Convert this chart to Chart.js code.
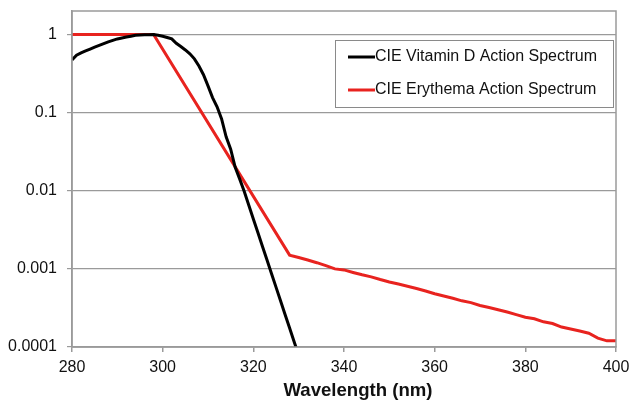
<!DOCTYPE html>
<html>
<head>
<meta charset="utf-8">
<script src="https://cdn.jsdelivr.net/npm/chart.js@4.4.1/dist/chart.umd.min.js"></script>
<style>
  html, body { margin: 0; padding: 0; background: #fff; }
  #wrap { width: 631px; height: 400px; }
</style>
</head>
<body>
<div id="wrap"><canvas id="spectrum"></canvas></div>
<script>
// wavelength (nm) and relative response
const vitDWavelength = [280, 281, 282, 283, 284, 285, 286, 287, 288, 289, 290, 291, 292, 293, 294, 295, 296, 297, 298, 299,
    300, 301, 302, 303, 304, 305, 306, 307, 308, 309, 310, 311, 312, 313, 314, 315, 316, 317, 318, 319,
    320, 321, 322, 323, 324, 325, 326, 327, 328, 329, 330];
const vitDValues = [0.474, 0.543, 0.583, 0.617, 0.652, 0.689, 0.725, 0.763, 0.805, 0.842, 0.878, 0.903, 0.928, 0.952, 0.976, 0.983, 0.990, 0.996, 1.0, 0.977,
    0.951, 0.917, 0.878, 0.771, 0.701, 0.634, 0.566, 0.488, 0.395, 0.306, 0.220, 0.156, 0.119, 0.083, 0.049, 0.034, 0.020, 0.0141, 0.00976, 0.00652,
    0.00436, 0.00292, 0.00195, 0.00131, 0.000873, 0.000584, 0.00039, 0.000261, 0.000175, 0.000117, 0.0000783];

const erythemaWavelength = [280, 298, 328, 330, 332, 334, 336, 338, 340, 342, 344, 346, 348, 350, 352, 354, 356, 358, 360,
    362, 364, 366, 368, 370, 372, 374, 376, 378, 380, 382, 384, 386, 388, 390, 392, 394, 396, 398, 400];
const erythemaValues = [1, 1, 0.0015, 0.0014, 0.0013, 0.0012, 0.0011, 0.001, 0.00097, 0.0009, 0.00084, 0.00079, 0.00073, 0.00068, 0.00064, 0.0006, 0.00056, 0.00052, 0.00048,
    0.00045, 0.00042, 0.00039, 0.00037, 0.00034, 0.00032, 0.0003, 0.00028, 0.00026, 0.00024, 0.00023, 0.00021, 0.0002, 0.00018, 0.00017, 0.00016, 0.00015, 0.00013, 0.00012, 0.00012];

const xTicks = [280, 300, 320, 340, 360, 380, 400];
const yTicks = [0.0001, 0.001, 0.01, 0.1, 1];
const yTickLabels = ['0.0001', '0.001', '0.01', '0.1', '1'];

const seriesNames = ['CIE Vitamin D Action Spectrum', 'CIE Erythema Action Spectrum'];
const xTitle = 'Wavelength (nm)';

const toPoints = (xs, ys) => xs.map((x, i) => ({ x: x, y: ys[i] }));

const FONT = '"Liberation Sans", Arial, Helvetica, sans-serif';

// frame around the plot, axis title, boxed legend inside the plot
const framePlugin = {
    id: 'frame',
    afterDraw(chart) {
        const ctx = chart.ctx;
        const a = chart.chartArea;
        ctx.save();
        ctx.strokeStyle = '#9a9a9a';
        ctx.lineWidth = 1.5;
        ctx.strokeRect(a.left, a.top, a.right - a.left, a.bottom - a.top);

        // x title (sits a little right of centre in the original)
        ctx.fillStyle = '#111';
        ctx.font = 'bold 18.6px ' + FONT;
        ctx.textAlign = 'center';
        ctx.textBaseline = 'alphabetic';
        ctx.fillText(xTitle, (a.left + a.right) / 2 + 14, 396);

        // legend
        const bx = 335, by = 40, bw = 278, bh = 67;
        ctx.fillStyle = '#fff';
        ctx.fillRect(bx, by, bw, bh);
        ctx.strokeStyle = '#8a8a8a';
        ctx.lineWidth = 1;
        ctx.strokeRect(bx + 0.5, by + 0.5, bw, bh);
        ctx.font = '16px ' + FONT;
        ctx.textAlign = 'left';
        ctx.textBaseline = 'middle';
        chart.data.datasets.forEach((ds, i) => {
            const ly = by + 17 + i * 33;
            ctx.strokeStyle = ds.borderColor;
            ctx.lineWidth = 3;
            ctx.beginPath();
            ctx.moveTo(bx + 13, ly);
            ctx.lineTo(bx + 40, ly);
            ctx.stroke();
            ctx.fillStyle = '#111';
            ctx.fillText(ds.label, bx + 40, ly);
        });
        ctx.restore();
    }
};

new Chart(document.getElementById('spectrum').getContext('2d'), {
    type: 'line',
    data: {
        datasets: [{
            label: seriesNames[0],
            data: toPoints(vitDWavelength, vitDValues),
            borderColor: '#000000',
            borderWidth: 3,
            pointRadius: 0,
            tension: 0
        }, {
            label: seriesNames[1],
            data: toPoints(erythemaWavelength, erythemaValues),
            borderColor: '#e8231f',
            borderWidth: 3,
            pointRadius: 0,
            tension: 0
        }]
    },
    options: {
        responsive: true,
        maintainAspectRatio: false,
        animation: false,
        layout: { padding: { top: 11, right: 15, left: 0, bottom: 0 } },
        plugins: {
            legend: { display: false },
            tooltip: { enabled: false }
        },
        scales: {
            x: {
                type: 'linear',
                min: 280,
                max: 400,
                afterBuildTicks: (s) => { s.ticks = xTicks.map(v => ({ value: v })); },
                afterFit: (s) => { s.height = 53; s.paddingLeft = 0; s.paddingRight = 0; },
                grid: { drawOnChartArea: false, drawTicks: true, tickLength: 5, color: '#9a9a9a', lineWidth: 1.5 },
                border: { color: '#9a9a9a', width: 1.5 },
                ticks: { color: '#111', font: { family: FONT, size: 16 }, padding: 6, maxRotation: 0 }
            },
            y: {
                type: 'logarithmic',
                min: 0.0001,
                max: 2,
                afterBuildTicks: (s) => { s.ticks = yTicks.map(v => ({ value: v })); },
                afterFit: (s) => { s.width = 72; s.paddingTop = 0; s.paddingBottom = 0; },
                grid: { color: '#9a9a9a', lineWidth: 1.2, tickLength: 5 },
                border: { color: '#9a9a9a', width: 1.5 },
                ticks: {
                    color: '#111',
                    font: { family: FONT, size: 16 },
                    padding: 10,
                    callback: (v) => {
                        const i = yTicks.findIndex(t => Math.abs(t - v) / t < 1e-6);
                        return i >= 0 ? yTickLabels[i] : '';
                    }
                }
            }
        }
    },
    plugins: [framePlugin]
});
</script>
</body>
</html>
